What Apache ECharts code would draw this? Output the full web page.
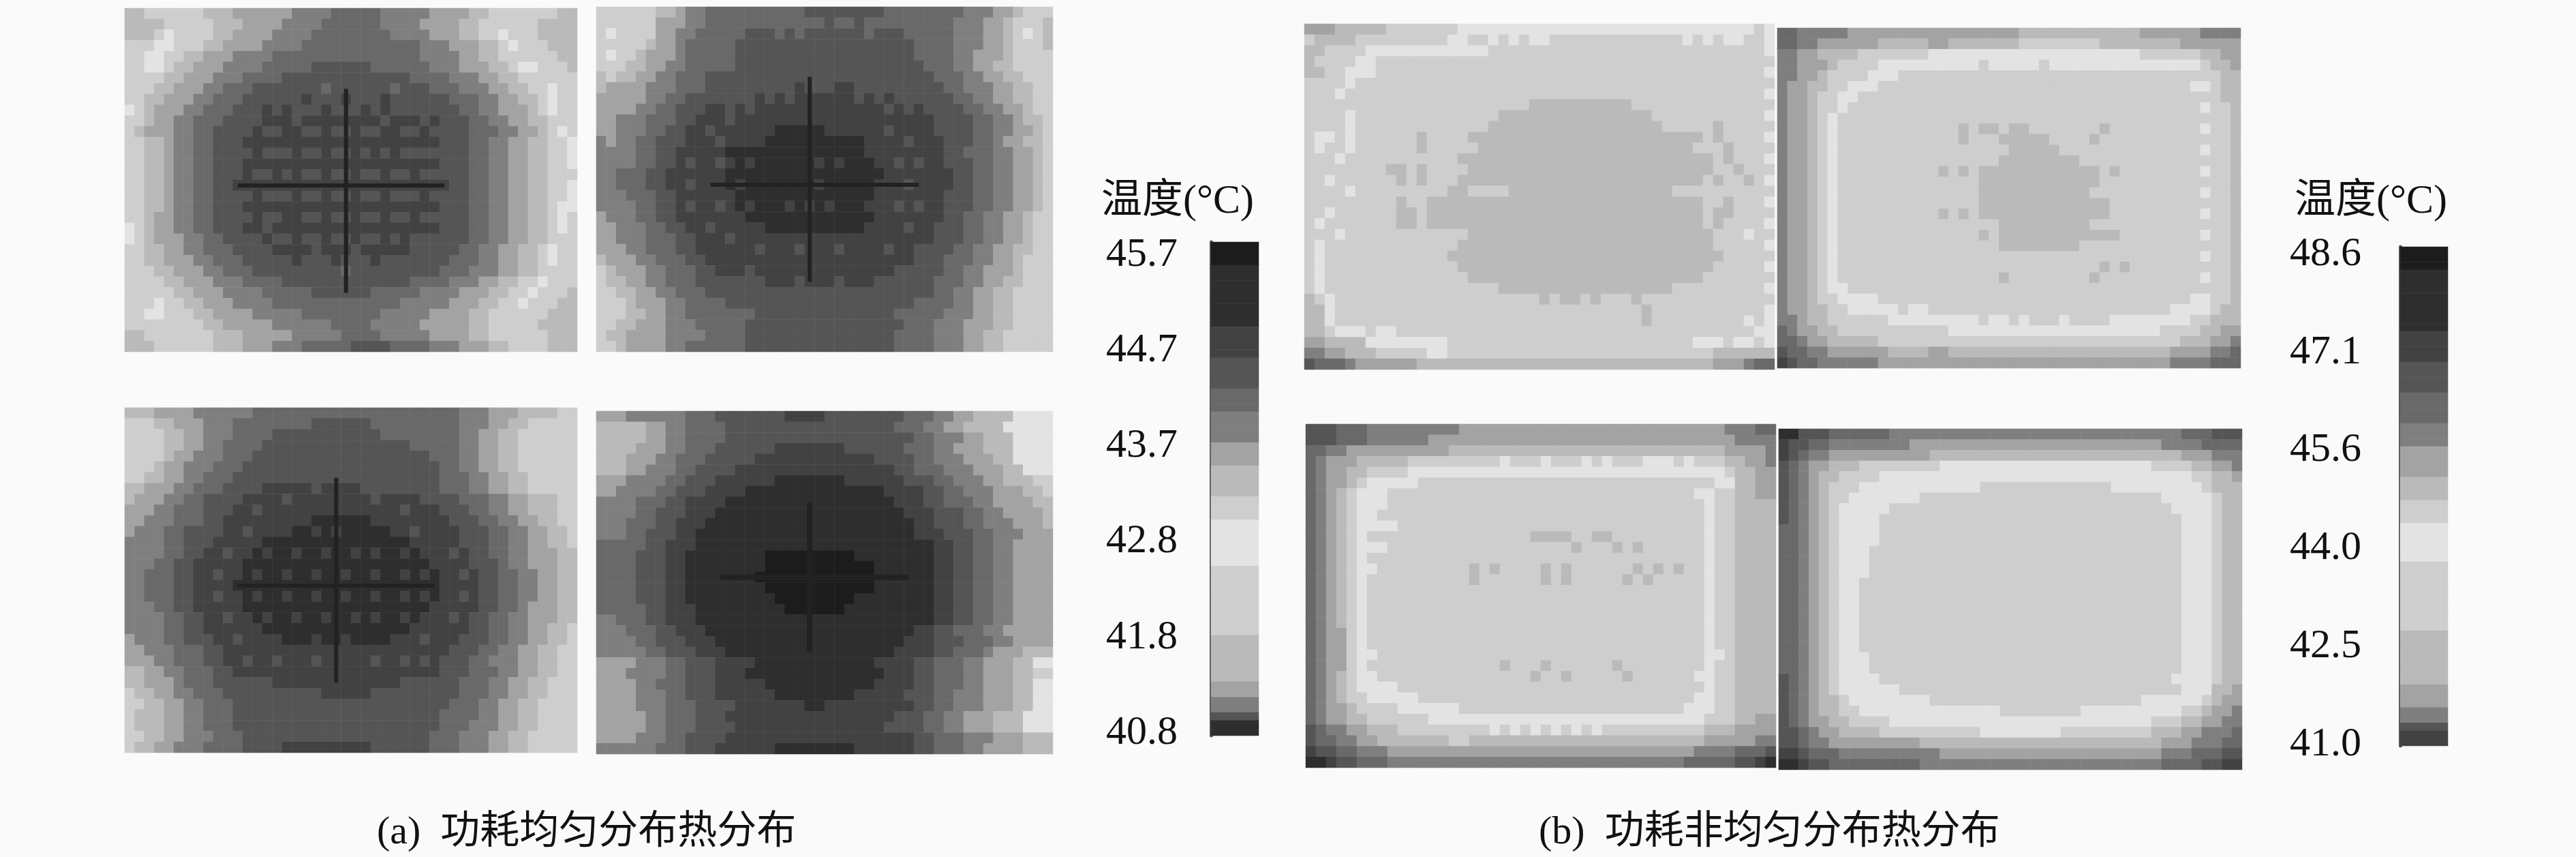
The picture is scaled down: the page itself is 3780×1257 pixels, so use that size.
<!DOCTYPE html>
<html>
<head>
<meta charset="utf-8">
<style>html,body{margin:0;padding:0;background:#fafafa}#chart{width:3780px;height:1257px}</style>
<script src="https://cdn.jsdelivr.net/npm/echarts@6/dist/echarts.min.js"></script>
</head>
<body>
<div id="chart"></div>
<script>
// each digit is one cell, index into shadeGrays
var shadeGrays = ['#1c1c1c','#2e2e2e','#424242','#555555','#696969','#7f7f7f','#a3a3a3','#bababa','#cecece','#e3e3e3'];

var ticksA = ['45.7','44.7','43.7','42.8','41.8','40.8'];
var ticksB = ['48.6','47.1','45.6','44.0','42.5','41.0'];
var barA = '0001111111122223333444555566677778889999998888888887777776655311';
var barB = '00011111111222233334444555666677788899999888888888777777766655322';

var panelA1 = [
'7788888877766666655554444455555666677888888877',
'7777888887776666555544444455556666778888887777',
'7778988887766665555444444445555666778898887777',
'8889988877666655554444444444445556667789888777',
'8899887766655554444444444444445555667788888877',
'8899877666555544444333333444444555666778998887',
'8888776665554444333333333333344445556677888888',
'8887766655444333333343333334333444555667788988',
'8877666554443333332333233323333334445566778988',
'9876665544433323233323332323333333445566678988',
'8876655444333322232222222232223233344556677888',
'8766655443333233223323323322332333344455667898',
'8877655443332222222222222222222233344556677889',
'8877655443333233323323323232333333344556677889',
'8877655443332222222222222222222233344556677889',
'8877655443332332323323323323323333344556677888',
'8877655443322222222222222222222223344556677889',
'8877655443333233323323323323332333344556677889',
'8877655443332222222222222222222233344556677899',
'8876655443333233223323323323323333344556677898',
'9876655443332232222222222222222233344556677898',
'9876665544333323323323323323233333344556677888',
'8877665544433332222322232222233333445566778988',
'8877666554443333323332333233333334445566778988',
'8887766655444333333333433333333344455566778888',
'8888776665554444333333333333344445556677889888',
'8888877666555544444333333444445555666778898887',
'8889887766655554444444444444555556667788988877',
'8899888776666555554444444455555666677888888777',
'8888888877666665555554444555556666677888887777',
'7788888887776666655555444455555666677888888777',
'7778888887776665554444433334444555666778888777'];

var panelA2 = [
'8888887765544444444443333333344444444555667888',
'8888886665544444444444434434444444445556678887',
'8988886655444443334343333334333444445556678987',
'8888876654444433333333333333333344445556678887',
'8988766654444433333333333333333344445566678888',
'8887766554444433333333333333333334445566778888',
'7877665544433333333333333333333333444556677888',
'7666655544433333333323332233333333344555667788',
'6666655443333333232322222232323333334455667788',
'6666554433322323222222222222232323333445566788',
'6655544433222322222222222222222222333344556778',
'6655544332232222221111122222232222333344556678',
'5655443332223222211111111112222322233344566778',
'5555443322222111111111111112222222233444556678',
'5555443323223212111111212111223232233344556678',
'5544433222222111111111111111122222223344556678',
'5544433223222121111111211111222322223344556678',
'5554443322222211111111111111222222233344556678',
'5555443323223212111212121112223232233344556678',
'6555443322222221111111111111222222233445566788',
'6655544332232222211111111112222322333445566788',
'6655544433222322222222222222222222333445566788',
'6665544433222222322232223222232233334455667788',
'7666554443322222222222222222222233344455667888',
'8766655444332223222222222222223333344556667888',
'8776655444333333322232223222333333444556677888',
'8877665544433333333333333333333333445566778888',
'8887666554444333333333333333333344445566778888',
'8887766554444444333333333333334444455566778888',
'8877666555444443333333333333333444555666778888',
'8776666555544443333333333333334444555667788888',
'8876666554444443333333333333334444555667788888'];

var panelA3 = [
'7776666555555444444444444444444444555666777788',
'8887766655544444444333333444444444555667788888',
'8888776655544443333333333344444444556677888888',
'8888776655444433333333333333344444556677888888',
'8888766555444333333333333333333444556677888888',
'8887665554443333333333333333333344556677888888',
'8877665544433333333333333333333344455667788888',
'7766655444333322222322223333333344455667788888',
'7666554433332222322222222322223333444556677788',
'6665544433322322222222222222322233344556677788',
'6655544433222222222111111222222223334455667788',
'6555443333223222211212111112232222333445566778',
'5555443332222211111111111111122222333445566778',
'5555443322322121121121121211212223233445566677',
'5554433222221111111111111111111222233345566677',
'5544433223221211211211211211212122323344556677',
'5544433222211111111111111111111122223344556677',
'5544433223221211211211211211212122323344556677',
'5554433222221111111111111111111222223344566677',
'5555443322322121121121121211212223233445566677',
'5555443322222211111111111111122222233445566778',
'6555443332232222111211211112223222333445566778',
'6655544433222222222222222222222223334455667788',
'6665544433223223222322222322323233344555667788',
'7766554443322222222222222222222233344455667788',
'7766654443333332222222222222333333444556677888',
'8776655444333333333322222333333333444556677888',
'8877665544433333333333333333333334445566778888',
'8777665544433333333333333333333344445566778888',
'8777665544433333333333333333333344455566778888',
'8877665554443333333333333333333444555667788888',
'8776655544443333222222222333333444555667788888'];

var panelA4 = [
'6665555554443333333222233333333444556677779999',
'7777766554444333333333333333334445566777799999',
'7777766554444333333333333333333344555667779999',
'7777666554443333332222222333333444556667779999',
'7776665544433333222222222222333344555666779999',
'7776655544333322222222222222223344455566677999',
'6665555443332222221111111222222333445556677788',
'6655554433322221111111111111122223344555666778',
'5555444332222111111111111111112223344455666677',
'5555443332221111111111111111111222333445566667',
'5554443322211111111111111111111122333445556667',
'5554433322111111111111111111111122233344555666',
'4444433222111111111111111111111111223344556666',
'4444333221111111100000000011111111223344556666',
'4444333221111111100000000000111111223344556666',
'4444333221111111000000000000111111223344556666',
'4444333221111111100000000000111111223344556666',
'4444333221111111110000000011111111223344556666',
'4444433222111111111000000111111111223344556666',
'5544433222111111111111111111111111223344556666',
'5554443322211111111111111111111122334445566666',
'5555443332221111111111111111111222333444556666',
'5555544333222111111111111111112222334445666777',
'6666555443332222111111111111222233444556667799',
'6665555443332221111111111111122233444556667788',
'6666554443332222211111111111222233444556667799',
'6666555443332222221111111122222333445556667799',
'6666555444333322222221122222222233445556667799',
'6666655444333222222222222222223334455666777999',
'6666655444333322222222222222233334455666777999',
'6666555443333222222222222222222233444555666777',
'5555554443332222221111111122222233444556666777'];

var panelB1 = [
'6667777788888889999999999999999999999999999989',
'8777788888888899889898998888888888888989899889',
'7788889999999999998888888888888888888888888889',
'7888899888888888888888888888888888888888888888',
'7788999888888888888888888888888888888888888889',
'8888988888888888888888888888888888888888888888',
'8889888888888888888888888888888888888888888889',
'8888888888888888888888777777777788888888888888',
'8888988888888888888777777777777777888888888889',
'8888988888888888887777777777777777788888788888',
'8998988888878888777777777777777777777778788889',
'8988988888878888877777777777777777777788878888',
'8889888888888887777777777777777777777777878889',
'8888888877878888777777777777777777777777887888',
'8898888887878887777777777777777777777778788789',
'8888988888888877888877777777777777778888888888',
'8888888887887777777777777777777777777778878889',
'8898888887787777777777777777777777777778778888',
'8988888887787777777777777777777777777778788889',
'8889888888888888777777777777777777777777888988',
'8988888888888887777777777777777777777777888889',
'8988888888888877777777777777777777777777788888',
'8988888888888887777777777777777777777777888889',
'8988888888888888777777777777777777777778888888',
'8988888888888888888777777777777777778888888889',
'7898888888888888888888878778788878888888888888',
'7798888888888888888888888888888887888888888889',
'7798888888888888888888888888888887888888888989',
'7789998998888888888888888888888888888888888899',
'6677779999999988888888888888888888888899989989',
'5566777888889988888888888888888888888888777777',
'3444566666677777777777777777777777777777666544'];

var panelB2 = [
'4455555666666666666666667777777777776666665555',
'4455666666777776677777778888888877777777666666',
'5566777788888889999999999999999999998888887766',
'5566678888999999999989999989999999999999998776',
'5566788889998888888888888888888888888888888877',
'5667788999888888888888888888888888888888899877',
'5667889988888888888888888888888888888888888877',
'5667889888888888888888888888888888888888889887',
'5667898888888888888888888888888888888888888887',
'5667898888888888887877877888888878888888889887',
'5667898888888888887888777778888788888888888887',
'5667898888888888888888877777888888888888889887',
'5667898888888888888888777777778888888888888887',
'5667898888888888787877777777777787888888889887',
'5667898888888888888877777777777788888888888887',
'5667898888888888888877777777777888888888889887',
'5667898888888888888877777777777778888888888887',
'5667898888888888787877777777777778888888889887',
'5667898888888888888888777777777888888888888887',
'5667898888888888888878777777777777888888889887',
'5667898888888888888888777777778888888888888887',
'5667898888888888888888888888888888888888889887',
'5667898888888888888888888888888878788888888887',
'5667898888888888888888788888888788888888889887',
'5667899888888888888888888888888888888888888887',
'5667889999888888888888888888888888888888899887',
'5667788999998998888888888888888888888889999877',
'5567788888899999999989989888988889999999988777',
'4566778888888888899999999999999999999988887766',
'4456677777888888888888888888888888888888777665',
'3445566666677776677777777777777777777776666554',
'2344555555666666666666666666666666666665555444'];

var panelB3 = [
'3334445555555556666666666666666666666666655544',
'3334445555556666666666666666666666666666665555',
'4455666666666677777777777777777777777777766665',
'4566677777888888888988898889898889998988877665',
'4566778888999999999999999999999999999999987766',
'4566789999988888888888888888888888888888997766',
'4567899988888888888888888888888888888899887766',
'4567899988888888888888888888888888888889887777',
'4567899888888888888888888888888888888889887777',
'4567899998888888888888888888888888888889887777',
'4567898888888888888888777788778888888889887777',
'4567899988888888888888888878887878888889887777',
'4567898888888888888888888888888888888889887777',
'4567899888888888787888878788888878787889887777',
'4567898888888888788888878788888787888889887777',
'4567898888888888888888888888888888888889887777',
'4567898888888888888888888888888888888889887777',
'4567898888888888888888888888888888888889887777',
'4567898888888888888888888888888888888889887777',
'4566898888888888888888888888888888888889887777',
'4566898888888888888888888888888888888889887777',
'4566899888888888888888888888888888888889987777',
'4566898888888888888788878888887888888889887777',
'4567899888888888888888788788888788888899887777',
'4567899998888888888888888888888888888889887777',
'4567889999988888888888888888888888888899887777',
'4566788889999998888888888888888888888999887777',
'4566778888889999999999999999999999999998887766',
'3455667778888888889898989898988888888887776666',
'3445566777777788777777777777777777777776666655',
'2334455566666666666666666666666666666655554443',
'1123344455555555555555555555555555555444443321'];

var panelB4 = [
'1133344444455555555555555555555555555555444333',
'2334455555555666666666666666666666666655554444',
'2345566666666667777777777777777777777777666555',
'3456677788888888999999999999999999999888877665',
'3456778888999999999999999999999999999999988776',
'3456788899999999999988888888888889999999998777',
'3456788999999988888888888888888888888899999877',
'3456789999988888888888888888888888888889999877',
'3456789999888888888888888888888888888888999877',
'4456789999888888888888888888888888888888999877',
'4456789999888888888888888888888888888888999877',
'4456789998888888888888888888888888888888999877',
'4456789998888888888888888888888888888888999877',
'4456789998888888888888888888888888888888999877',
'4456789988888888888888888888888888888888999877',
'4456789988888888888888888888888888888888999877',
'4456789988888888888888888888888888888888999877',
'4456789988888888888888888888888888888888999877',
'4456789988888888888888888888888888888888999877',
'4456789988888888888888888888888888888888999877',
'4456789988888888888888888888888888888888999877',
'4456789998888888888888888888888888888888999877',
'4456789998888888888888888888888888888888999877',
'3456789999888888888888888888888888888889999877',
'3456789999998888888888888888888888888888999776',
'3456778999999998888888888888888888889999998766',
'3456778899999999999999888888889999999999887665',
'3456677888899999999999999999999999999888776655',
'3345667777888888888899999999888888888777665554',
'3345566666666677777777777777777777777766655544',
'2234445555555555666666666666666666666655544433',
'1123344444444455555555555555555555555544443322'];

// cross hairs on the hot panels, [column, row] ends
var crossA1 = [[[22,7],[22,26]], [[11,16],[32,16]]];
var crossA2 = [[[21,6],[21,25]], [[11,16],[32,16]]];
var crossA3 = [[[21,6],[21,25]], [[11,16],[31,16]]];
var crossA4 = [[[21,8],[21,22]], [[12,15],[31,15]]];

var serifFont = '"Liberation Serif","Noto Sans CJK SC",serif';
var grids = [], xAxes = [], yAxes = [], seriesList = [], heatIndex = [];

function indexList(n) {
	var list = [];
	for (var i = 0; i < n; i++) list.push(i);
	return list;
}

function addHeat(rows, nCols, box, cross, crossWidth) {
	var g = grids.length;
	grids.push({left: box[0], top: box[1], width: box[2], height: box[3], show: false});
	xAxes.push({gridIndex: g, type: 'category', data: indexList(nCols), show: false});
	yAxes.push({gridIndex: g, type: 'category', data: indexList(rows.length), inverse: true, show: false});
	var cells = [];
	rows.forEach(function (row, y) {
		for (var x = 0; x < nCols; x++) {
			var ch = row.charAt(x) || row.charAt(row.length - 1);
			cells.push([x, y, Number(ch)]);
		}
	});
	heatIndex.push(seriesList.length);
	seriesList.push({
		type: 'heatmap', xAxisIndex: g, yAxisIndex: g, data: cells,
		progressive: 0, silent: true, animation: false, itemStyle: {borderWidth: 0}
	});
	(cross || []).forEach(function (line) {
		seriesList.push({
			type: 'line', xAxisIndex: g, yAxisIndex: g, data: line, showSymbol: false,
			silent: true, animation: false, lineStyle: {color: '#222222', width: crossWidth}, z: 5
		});
	});
}

// colour bar: dark line down its left side
function addBar(stops, box) {
	addHeat(stops.split(''), 1, box);
	var y = yAxes[yAxes.length - 1];
	y.show = true;
	y.axisLine = {show: true, onZero: false, lineStyle: {color: '#555555', width: 5}};
	y.axisTick = {show: false};
	y.axisLabel = {show: false};
	y.splitLine = {show: false};
}

function addTicks(ticks, right, top, height) {
	var g = grids.length;
	grids.push({left: right, top: top, width: 1, height: height, show: false});
	xAxes.push({gridIndex: g, type: 'value', show: false});
	yAxes.push({
		gridIndex: g, type: 'category', data: ticks, inverse: true, boundaryGap: false,
		axisLine: {show: false}, axisTick: {show: false},
		axisLabel: {interval: 0, margin: 0, color: '#111', fontSize: 60, fontFamily: serifFont}
	});
}

addHeat(panelA1, 46, [183, 12, 664, 504], crossA1, 6);
addHeat(panelA2, 46, [875, 10, 670, 506], crossA2, 6);
addHeat(panelA3, 46, [183, 598, 664, 506], crossA3, 6);
addHeat(panelA4, 46, [875, 603, 670, 503], crossA4, 8);
addHeat(panelB1, 46, [1914, 35, 690, 507]);
addHeat(panelB2, 46, [2608, 41, 680, 499]);
addHeat(panelB3, 46, [1916, 622, 690, 504]);
addHeat(panelB4, 46, [2610, 629, 680, 500]);
addBar(barA, [1777, 355, 70, 724]);
addBar(barB, [3522, 362, 70, 732]);
addTicks(ticksA, 1728, 374, 701);
addTicks(ticksB, 3465, 373, 719);

function caption(text, left, top, size) {
	return {text: text, left: left, top: top, padding: 0,
		textStyle: {fontFamily: serifFont, fontWeight: 'normal', fontSize: size, color: '#111'}};
}

var chart = echarts.init(document.getElementById('chart'));
chart.setOption({
	backgroundColor: '#fafafa',
	animation: false,
	title: [
		caption('温度(°C)', 1616, 266, 60),
		caption('温度(°C)', 3367, 266, 60),
		caption('(a)  功耗均匀分布热分布', 553, 1193, 58),
		caption('(b)  功耗非均匀分布热分布', 2258, 1193, 58)
	],
	grid: grids,
	xAxis: xAxes,
	yAxis: yAxes,
	visualMap: {
		type: 'piecewise', show: false, dimension: 2, seriesIndex: heatIndex,
		pieces: shadeGrays.map(function (c, i) { return {value: i, color: c}; })
	},
	series: seriesList
});
</script>
</body>
</html>
